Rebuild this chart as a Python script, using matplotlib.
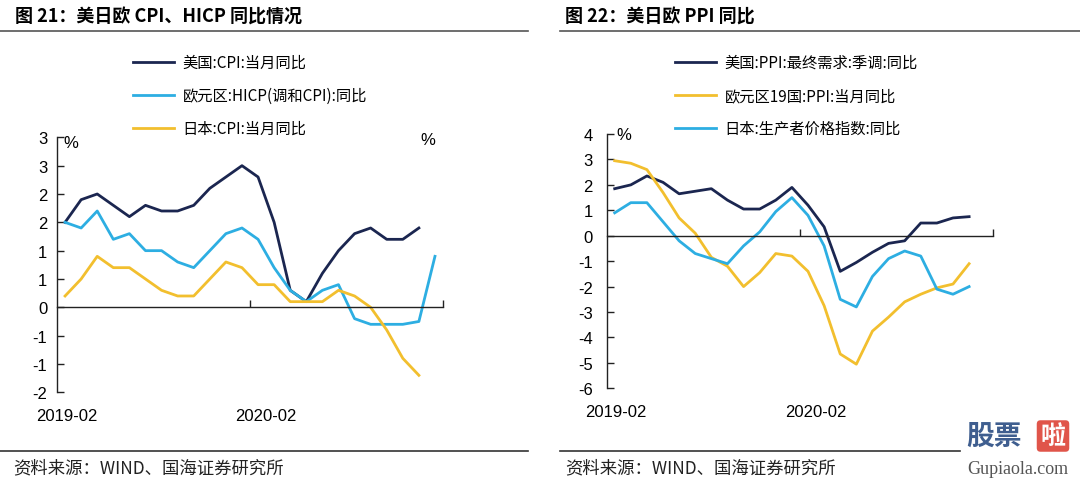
import matplotlib
matplotlib.use('Agg')
import matplotlib.pyplot as plt
import matplotlib.transforms as mtransforms
from matplotlib.lines import Line2D
from matplotlib.ticker import FuncFormatter
import numpy as np

plt.rcParams['font.family'] = ['Liberation Sans', 'Noto Sans CJK SC', 'DejaVu Sans']
plt.rcParams['axes.unicode_minus'] = False
CJK = ['Noto Sans CJK SC', 'DejaVu Sans']

# months on the category axis
months = ['2019-02', '2019-03', '2019-04', '2019-05', '2019-06', '2019-07',
          '2019-08', '2019-09', '2019-10', '2019-11', '2019-12', '2020-01',
          '2020-02', '2020-03', '2020-04', '2020-05', '2020-06', '2020-07',
          '2020-08', '2020-09', '2020-10', '2020-11', '2020-12', '2021-01']
shown_labels = ['2019-02', '2020-02']

# chart 21: CPI / HICP yoy (%)
us_cpi = [1.5, 1.9, 2.0, 1.8, 1.6, 1.8, 1.7, 1.7, 1.8, 2.1, 2.3, 2.5,
          2.3, 1.5, 0.3, 0.1, 0.6, 1.0, 1.3, 1.4, 1.2, 1.2, 1.4]
ez_hicp = [1.5, 1.4, 1.7, 1.2, 1.3, 1.0, 1.0, 0.8, 0.7, 1.0, 1.3, 1.4,
           1.2, 0.7, 0.3, 0.1, 0.3, 0.4, -0.2, -0.3, -0.3, -0.3, -0.25, 0.9]
jp_cpi = [0.2, 0.5, 0.9, 0.7, 0.7, 0.5, 0.3, 0.2, 0.2, 0.5, 0.8, 0.7,
          0.4, 0.4, 0.1, 0.1, 0.1, 0.3, 0.2, 0.0, -0.4, -0.9, -1.2]

# chart 22: PPI yoy (%)
us_ppi = [1.85, 2.0, 2.35, 2.1, 1.65, 1.75, 1.85, 1.4, 1.05, 1.05, 1.4, 1.9,
          1.2, 0.35, -1.4, -1.05, -0.65, -0.3, -0.2, 0.5, 0.5, 0.7, 0.75]
ez_ppi = [2.95, 2.85, 2.6, 1.7, 0.7, 0.1, -0.85, -1.2, -2.0, -1.45, -0.7, -0.8,
          -1.4, -2.75, -4.65, -5.05, -3.75, -3.2, -2.6, -2.3, -2.05, -1.9, -1.1]
jp_ppi = [0.9, 1.3, 1.3, 0.55, -0.2, -0.7, -0.9, -1.1, -0.4, 0.15, 0.95, 1.5,
          0.8, -0.4, -2.5, -2.8, -1.6, -0.9, -0.6, -0.8, -2.1, -2.3, -2.0]

NAVY = '#1B2650'
BLUE = '#2DAEE2'
GOLD = '#F2BF2E'
AXC = '#222222'


def half_away(v, pos):
    return str(int(np.sign(v) * np.floor(abs(v) + 0.5)))


def style_axis(ax, ylim, ystep, tick_pad):
    n = len(months)
    ax.set_xlim(-0.5, n - 0.5)
    ax.set_ylim(*ylim)
    ax.set_yticks(np.arange(ylim[0], ylim[1] + ystep / 2, ystep))
    ax.set_xticks([11.5, n - 0.5])
    for s in ['top', 'right']:
        ax.spines[s].set_visible(False)
    ax.spines['bottom'].set_position(('data', 0))
    for s in ['left', 'bottom']:
        ax.spines[s].set_color(AXC)
        ax.spines[s].set_linewidth(1.0)
    ax.tick_params(axis='y', direction='in', length=5, width=1.0, color=AXC,
                   labelsize=12, pad=tick_pad)
    ax.tick_params(axis='x', direction='in', length=5, width=1.0, color=AXC,
                   labelbottom=False)
    trans = mtransforms.blended_transform_factory(ax.transData, ax.transAxes)
    for lab in shown_labels:
        i = months.index(lab)
        ax.text(i + (0.5 if i else 0.1), -0.092, lab, transform=trans,
                ha='center', va='center', fontsize=12)


def add_legend(ax, x_px):
    ax.legend(loc='upper left', bbox_to_anchor=(x_px / 1080, 1 - 55 / 481),
              bbox_transform=fig.transFigure, frameon=False,
              prop={'family': CJK, 'size': 11}, handlelength=2.7,
              handletextpad=0.55, labelspacing=1.05, borderpad=0, borderaxespad=0)


fig = plt.figure(figsize=(10.8, 4.81), dpi=100)

# ---- left chart
ax1 = fig.add_axes([0.0528, 0.1823, 0.3574, 0.5301])
ax1.plot(np.arange(len(us_cpi)), us_cpi, color=NAVY, lw=2.0, label='美国:CPI:当月同比')
ax1.plot(np.arange(len(ez_hicp)), ez_hicp, color=BLUE, lw=2.0, label='欧元区:HICP(调和CPI):同比')
ax1.plot(np.arange(len(jp_cpi)), jp_cpi, color=GOLD, lw=2.0, label='日本:CPI:当月同比')
style_axis(ax1, (-1.5, 3.0), 0.5, 7)
ax1.yaxis.set_major_formatter(FuncFormatter(half_away))
add_legend(ax1, 133)
fig.text(71 / 1080, 1 - 143 / 481, '%', fontsize=12, ha='center', va='center')
fig.text(428 / 1080, 1 - 141 / 481, '%', fontsize=12, ha='center', va='center')

# ---- right chart
ax2 = fig.add_axes([0.5617, 0.1906, 0.3580, 0.5287])
ax2.plot(np.arange(len(us_ppi)), us_ppi, color=NAVY, lw=2.0, label='美国:PPI:最终需求:季调:同比')
ax2.plot(np.arange(len(ez_ppi)), ez_ppi, color=GOLD, lw=2.0, label='欧元区19国:PPI:当月同比')
ax2.plot(np.arange(len(jp_ppi)), jp_ppi, color=BLUE, lw=2.0, label='日本:生产者价格指数:同比')
style_axis(ax2, (-6, 4), 1, 10)
add_legend(ax2, 675)
fig.text(624 / 1080, 1 - 135 / 481, '%', fontsize=12, ha='center', va='center')

# ---- titles, rules and source notes
fig.text(15 / 1080, 1 - 17 / 481, '图 21：美日欧 CPI、HICP 同比情况', family=CJK,
         fontsize=13, fontweight='bold', va='center')
fig.text(565 / 1080, 1 - 17 / 481, '图 22：美日欧 PPI 同比', family=CJK,
         fontsize=13, fontweight='bold', va='center')
for x0, x1 in [(0, 528), (560, 1080)]:
    fig.add_artist(Line2D([x0 / 1080, x1 / 1080], [1 - 32 / 481] * 2, color='#555555', lw=1.2))
for x0, x1 in [(0, 528), (560, 960)]:
    fig.add_artist(Line2D([x0 / 1080, x1 / 1080], [1 - 452 / 481] * 2, color='#333333', lw=1.2))
fig.text(13 / 1080, 1 - 468 / 481, '资料来源：WIND、国海证券研究所', family=CJK,
         fontsize=12.5, color='#222222', va='center')
fig.text(565 / 1080, 1 - 468 / 481, '资料来源：WIND、国海证券研究所', family=CJK,
         fontsize=12.5, color='#222222', va='center')

# watermark
fig.text(994 / 1080, 1 - 437 / 481, '股票', family=CJK, fontsize=20, fontweight='bold',
         color='#3F5E8F', ha='center', va='center')
fig.text(1053 / 1080, 1 - 437 / 481, '啦', family=CJK, fontsize=18, fontweight='bold',
         color='white', ha='center', va='center',
         bbox=dict(boxstyle='round,pad=0.15', fc='#E0554A', ec='none'))
fig.text(1018 / 1080, 1 - 470 / 481, 'Gupiaola.com', family='Liberation Serif',
         fontsize=13, color='#555555', ha='center', va='center')

fig.savefig('out.png', dpi=100)
